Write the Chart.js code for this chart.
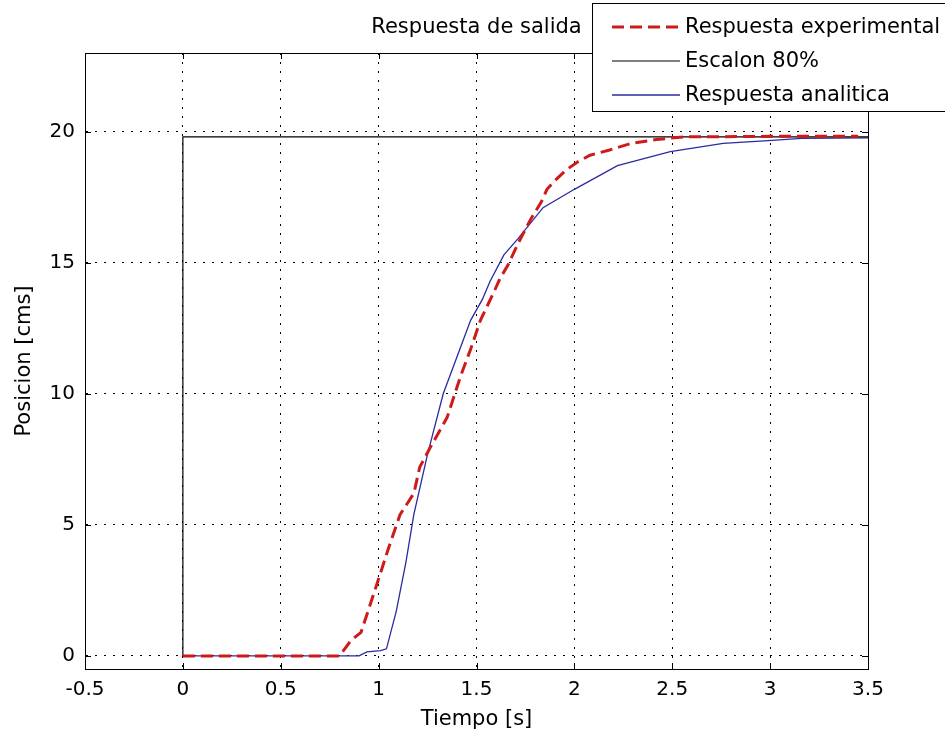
<!DOCTYPE html>
<html>
<head>
<meta charset="utf-8">
<title>Respuesta de salida</title>
<script src="https://cdn.jsdelivr.net/npm/chart.js@4.4.0/dist/chart.umd.min.js"></script>
<style>
  html, body { margin: 0; padding: 0; background: #fff; }
  #wrap { width: 945px; height: 736px; }
</style>
</head>
<body>
<div id="wrap"><canvas id="respChart" width="945" height="736"></canvas></div>
<script>
// values
const expX = [0, 0.8, 0.86, 0.91, 0.95, 1.02, 1.05, 1.11, 1.18, 1.21, 1.26, 1.35, 1.42, 1.47, 1.52, 1.59,
              1.62, 1.66, 1.71, 1.78, 1.83, 1.86, 1.91, 1.96, 2.02, 2.08, 2.18, 2.29, 2.42, 2.56, 3.0, 3.45];
const expY = [0, 0, 0.6, 0.9, 1.8, 3.4, 4.1, 5.4, 6.2, 7.2, 7.9, 9.1, 10.7, 11.7, 12.8, 13.9,
              14.4, 14.9, 15.7, 16.7, 17.3, 17.8, 18.2, 18.55, 18.86, 19.1, 19.3, 19.55, 19.7, 19.8, 19.82, 19.82];

const stepX = [0, 0, 3.5];
const stepY = [0, 19.8, 19.8];

const anaX = [0, 0.9, 0.94, 1.01, 1.04, 1.09, 1.14, 1.18, 1.25, 1.33, 1.43, 1.47, 1.53, 1.57, 1.64, 1.71,
              1.84, 2.0, 2.22, 2.49, 2.76, 2.99, 3.16, 3.5];
const anaY = [0, 0, 0.15, 0.2, 0.27, 1.7, 3.6, 5.4, 7.7, 10.0, 12.0, 12.8, 13.6, 14.3, 15.3, 15.9,
              17.1, 17.8, 18.7, 19.24, 19.55, 19.66, 19.74, 19.76];

const xTicks = [-0.5, 0, 0.5, 1, 1.5, 2, 2.5, 3, 3.5];
const yTicks = [0, 5, 10, 15, 20];

const labels = ["Respuesta experimental", "Escalon 80%", "Respuesta analitica"];

const FONT = "DejaVu Sans";

function toPoints(xs, ys) {
    return xs.map((x, i) => ({ x: x, y: ys[i] }));
}

// box, inward ticks, title and legend in the MATLAB style
const matlabFrame = {
    id: "matlabFrame",
    afterDraw(chart) {
        const ctx = chart.ctx;
        const a = chart.chartArea;
        const xs = chart.scales.x, ys = chart.scales.y;
        ctx.save();
        ctx.strokeStyle = "#000";
        ctx.lineWidth = 1;
        ctx.setLineDash([]);
        ctx.strokeRect(a.left + 0.5, a.top + 0.5, a.right - a.left, a.bottom - a.top);
        ctx.beginPath();
        xTicks.forEach(t => {
            const px = Math.round(xs.getPixelForValue(t)) + 0.5;
            ctx.moveTo(px, a.bottom); ctx.lineTo(px, a.bottom - 6);
            ctx.moveTo(px, a.top); ctx.lineTo(px, a.top + 6);
        });
        yTicks.forEach(t => {
            const py = Math.round(ys.getPixelForValue(t)) + 0.5;
            ctx.moveTo(a.left, py); ctx.lineTo(a.left + 6, py);
            ctx.moveTo(a.right, py); ctx.lineTo(a.right - 6, py);
        });
        ctx.stroke();

        // title
        ctx.fillStyle = "#000";
        ctx.font = "21px '" + FONT + "'";
        ctx.textAlign = "center";
        ctx.textBaseline = "middle";
        ctx.fillText("Respuesta de salida", (a.left + a.right) / 2, 28);

        // legend box
        const bx = 592.5, by = 3.5, bw = 360, bh = 108;
        ctx.fillStyle = "#fff";
        ctx.fillRect(bx, by, bw, bh);
        ctx.strokeStyle = "#000";
        ctx.lineWidth = 1;
        ctx.strokeRect(bx, by, bw, bh);
        ctx.textAlign = "left";
        chart.data.datasets.forEach((ds, i) => {
            const ly = 27 + i * 34;
            ctx.beginPath();
            ctx.strokeStyle = ds.borderColor;
            ctx.lineWidth = ds.borderWidth;
            ctx.setLineDash(ds.borderDash || []);
            ctx.moveTo(612, ly);
            ctx.lineTo(680, ly);
            ctx.stroke();
            ctx.setLineDash([]);
            ctx.fillStyle = "#000";
            ctx.fillText(ds.label, 685, ly + 1);
        });
        ctx.restore();
    }
};

const gridStyle = {
    color: "#000",
    lineWidth: 1,
    drawTicks: false
};

new Chart(document.getElementById("respChart").getContext("2d"), {
    type: "line",
    data: {
        datasets: [{
            label: labels[0],
            data: toPoints(expX, expY),
            borderColor: "#cf1a1a",
            borderWidth: 3,
            borderDash: [12, 6],
            pointRadius: 0,
            fill: false
        }, {
            label: labels[1],
            data: toPoints(stepX, stepY),
            borderColor: "#000",
            borderWidth: 1.2,
            pointRadius: 0,
            fill: false
        }, {
            label: labels[2],
            data: toPoints(anaX, anaY),
            borderColor: "#2b2ba0",
            borderWidth: 1.3,
            pointRadius: 0,
            fill: false
        }]
    },
    options: {
        responsive: false,
        animation: false,
        layout: { padding: { left: 0, right: 77, top: 53, bottom: 0 } },
        scales: {
            x: {
                type: "linear",
                min: -0.5,
                max: 3.5,
                afterBuildTicks: s => { s.ticks = xTicks.map(v => ({ value: v })); },
                afterFit: s => { s.height = 67; },
                grid: gridStyle,
                border: { display: true, color: "#000", dash: [2, 7] },
                ticks: {
                    color: "#000",
                    font: { family: FONT, size: 20 },
                    padding: 9,
                    maxRotation: 0,
                    callback: v => String(v)
                },
                title: {
                    display: true,
                    text: "Tiempo [s]",
                    color: "#000",
                    font: { family: FONT, size: 21 },
                    padding: { top: 0, bottom: 4 }
                }
            },
            y: {
                type: "linear",
                min: -0.5,
                max: 23,
                afterBuildTicks: s => { s.ticks = yTicks.map(v => ({ value: v })); },
                afterFit: s => { s.width = 85; },
                grid: gridStyle,
                border: { display: true, color: "#000", dash: [2, 7] },
                ticks: {
                    color: "#000",
                    font: { family: FONT, size: 20 },
                    padding: 10,
                    callback: v => String(v)
                },
                title: {
                    display: true,
                    text: "Posicion [cms]",
                    color: "#000",
                    font: { family: FONT, size: 21 },
                    padding: { top: 12, bottom: 0 }
                }
            }
        },
        plugins: {
            legend: { display: false },
            tooltip: { enabled: false }
        }
    },
    plugins: [matlabFrame]
});
</script>
</body>
</html>
